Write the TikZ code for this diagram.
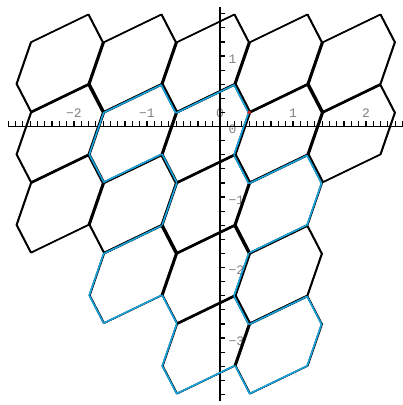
\documentclass[tikz,border=0pt]{standalone}
\usepackage{fontspec}
\setmonofont{Liberation Mono}
\usepackage{tikz}
\definecolor{TileBlue}{HTML}{18A4DC}
\definecolor{TickGray}{HTML}{808080}
\definecolor{DotRed}{HTML}{E0201C}

\begin{document}
\begin{tikzpicture}[x=73pt, y=70.5pt,
  tile/.style={line width=1.4pt, black, line join=round},
  region/.style={line width=1.6pt, TileBlue, line join=round, line cap=round},
  axisline/.style={line width=1.8pt, black},
  tickmark/.style={line width=1.2pt, black},
  lab/.style={font=\ttfamily\fontsize{13}{13}\selectfont, text=TickGray, inner sep=0pt}]
  \useasboundingbox (-220pt,-278.5pt) rectangle (183pt,126.5pt);

  \foreach \v/\lbl in {-2/−2,-1/−1,0/0,1/1,2/2}
    \node[lab, yshift=13.5pt] (xl\v) at (\v,0) {\lbl};
  \foreach \v/\lbl in {1/1,0/0,-1/−1,-2/−2,-3/−3}
    \node[lab, anchor=west, xshift=8.5pt, yshift=-3pt] (yl\v) at (0,\v) {\lbl};

  \draw[axisline] (-2.9,0) -- (2.5,0);
  \draw[axisline] (0,-3.9) -- (0,1.7);
  \foreach \k in {-29,...,25}
    \draw[tickmark] (\k/10,0) -- ++(0,5.5pt);
  \foreach \k in {-19,...,8}
    \draw[tickmark] (0,\k/5) -- ++(5.5pt,0);

  \foreach \i/\j in {0/0,1/0,2/0,3/0,4/0,0/1,1/1,2/1,3/1,4/1,0/2,1/2,2/2,3/2,1/3,2/3,3/3,2/4,3/4}{
    \begin{scope}[shift={(-2.2+\i,0.9-\j)}, scale=0.985]
      \foreach \dx in {0pt,0.7pt}
        \draw[tile, xshift=\dx] (-0.4,0.3) -- (0.4,0.7) -- (0.6,0.3) -- (0.4,-0.3) -- (-0.4,-0.7) -- (-0.6,-0.3) -- cycle;
      \coordinate (h\i\j-a) at (-0.4,0.3);
      \coordinate (h\i\j-b) at (0.4,0.7);
      \coordinate (h\i\j-c) at (0.6,0.3);
      \coordinate (h\i\j-d) at (0.4,-0.3);
      \coordinate (h\i\j-e) at (-0.4,-0.7);
      \coordinate (h\i\j-f) at (-0.6,-0.3);
    \end{scope}
  }

  \draw[region] (h11-d) -- (h11-e) -- (h11-f) -- (h11-a) -- (h11-b) -- (h11-c);
  \draw[region] (h21-a) -- (h21-b) -- (h21-c) -- (h21-d) (h21-e) -- (h21-f);
  \draw[region] (h22-b) -- (h22-c) (h22-f) -- (h22-a);
  \draw[region] (h32-a) -- (h32-b) -- (h32-c) -- (h32-d) -- (h32-e);
  \draw[region] (h13-d) -- (h13-e) -- (h13-f) -- (h13-a) -- (h13-b);
  \draw[region] (h23-c) -- (h23-d) (h23-e) -- (h23-f);
  \draw[region] (h24-b) -- (h24-c) (h24-d) -- (h24-e) -- (h24-f) -- (h24-a);
  \draw[region] (h34-a) -- (h34-b) -- (h34-c) -- (h34-d) -- (h34-e) -- (h34-f);

  \fill[DotRed] (0.4,0.2) ellipse (2pt and 1.3pt);
\end{tikzpicture}
\end{document}
